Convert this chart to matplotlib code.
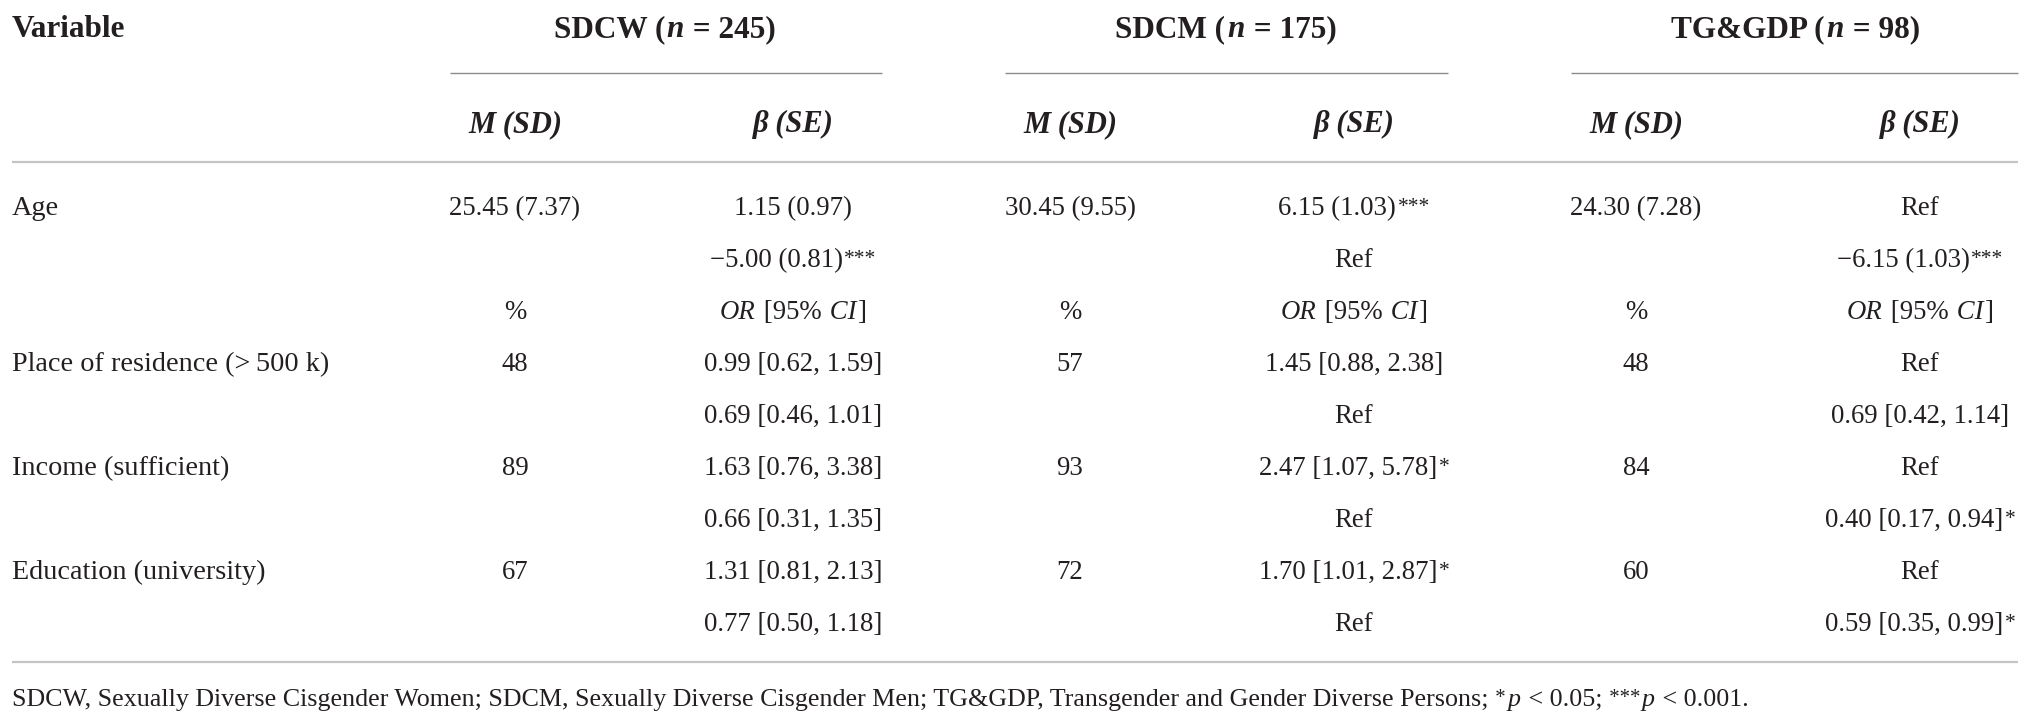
import matplotlib
matplotlib.use("Agg")
import matplotlib.pyplot as plt

# table contents
groups = ["SDCW", "SDCM", "TG&GDP"]
group_n = [245, 175, 98]
sub_headers = ["M (SD)", "\u03b2 (SE)"]

variables = ["Age", "", "", "Place of residence (>\u2009500 k)", "",
             "Income (sufficient)", "", "Education (university)", ""]

sdcw_m = ["25.45 (7.37)", "", "%", "48", "", "89", "", "67", ""]
sdcw_b = ["1.15 (0.97)", "\u22125.00 (0.81)***", "OR [95% CI]", "0.99 [0.62, 1.59]",
          "0.69 [0.46, 1.01]", "1.63 [0.76, 3.38]", "0.66 [0.31, 1.35]",
          "1.31 [0.81, 2.13]", "0.77 [0.50, 1.18]"]
sdcm_m = ["30.45 (9.55)", "", "%", "57", "", "93", "", "72", ""]
sdcm_b = ["6.15 (1.03)***", "Ref", "OR [95% CI]", "1.45 [0.88, 2.38]", "Ref",
          "2.47 [1.07, 5.78]*", "Ref", "1.70 [1.01, 2.87]*", "Ref"]
tg_m = ["24.30 (7.28)", "", "%", "48", "", "84", "", "60", ""]
tg_b = ["Ref", "\u22126.15 (1.03)***", "OR [95% CI]", "Ref", "0.69 [0.42, 1.14]",
        "Ref", "0.40 [0.17, 0.94]*", "Ref", "0.59 [0.35, 0.99]*"]

footnote = ("SDCW, Sexually Diverse Cisgender Women; SDCM, Sexually Diverse "
            "Cisgender Men; TG&GDP, Transgender and Gender Diverse Persons;")

columns = [sdcw_m, sdcw_b, sdcm_m, sdcm_b, tg_m, tg_b]

plt.rcParams["font.family"] = "Liberation Serif"

TXT = "#231f20"
W, H = 2030, 722

# layout (pixels)
col_x = [515, 793, 1070, 1354, 1636, 1920]
group_x = [665, 1226, 1796]
group_lines = [(450, 882), (1005, 1448), (1571, 2018)]
row_y0, row_dy = 215, 52
body_size = 19.3
label_size = 20.3
head_size = 22.5
foot_size = 18.7

BOLD = dict(fontweight="bold")
BOLDIT = dict(fontweight="bold", fontstyle="italic")
IT = dict(fontstyle="italic")
RM = dict()

fig = plt.figure(figsize=(W / 100, H / 100), dpi=100)
ax = fig.add_axes([0, 0, 1, 1])
ax.set_xlim(0, W)
ax.set_ylim(H, 0)
ax.axis("off")
renderer = fig.canvas.get_renderer()


def draw_runs(x, y, runs, size, ha="left"):
    # mixed-style text: place pieces one after another
    # a run may carry "scale" (relative size) and "dy" (raise in px)
    texts, widths = [], []
    for s, kw in runs:
        kw = dict(kw)
        scale = kw.pop("scale", 1.0)
        dy = kw.pop("dy", 0)
        t = ax.text(0, y - dy, s, fontsize=size * scale, color=TXT,
                    va="baseline", ha="left", **kw)
        texts.append(t)
        widths.append(t.get_window_extent(renderer).width)
    total = sum(widths) + 1.5 * (len(runs) - 1)
    pos = x - total / 2 if ha == "center" else x
    for t, w in zip(texts, widths):
        t.set_x(pos)
        pos += w + 1.5
    return pos


STARS = dict(scale=0.8, dy=3)


def draw_cell(x, y, s):
    if s.startswith("OR"):
        draw_runs(x, y, [("OR", IT), (" [95%", RM), (" CI", IT), ("]", RM)],
                  body_size, ha="center")
    elif s.endswith("*"):
        body = s.rstrip("*")
        draw_runs(x, y, [(body, RM), ("*" * (len(s) - len(body)), STARS)],
                  body_size, ha="center")
    else:
        ax.text(x, y, s, fontsize=body_size, color=TXT, va="baseline", ha="center")


# header
ax.text(12, 37, "Variable", fontsize=head_size, fontweight="bold",
        color=TXT, va="baseline", ha="left")
for g, n, gx, (x0, x1) in zip(groups, group_n, group_x, group_lines):
    draw_runs(gx, 37, [(g + " (", BOLD), ("n", BOLDIT), (" = %d)" % n, BOLD)],
              head_size, ha="center")
    ax.plot([x0, x1], [73, 73], color="#8c8c8c", lw=1.0, solid_capstyle="butt")

for i, cx in enumerate(col_x):
    ax.text(cx, 132, sub_headers[i % 2], fontsize=head_size - 0.5, color=TXT,
            va="baseline", ha="center", **BOLDIT)

ax.plot([12, 2018], [162, 162], color="#c4c4c4", lw=1.6, solid_capstyle="butt")

# body
for r, var in enumerate(variables):
    y = row_y0 + r * row_dy
    if var:
        ax.text(12, y, var, fontsize=label_size, color=TXT, va="baseline", ha="left")
    for cx, col in zip(col_x, columns):
        if col[r]:
            draw_cell(cx, y, col[r])

ax.plot([12, 2018], [662, 662], color="#c4c4c4", lw=1.6, solid_capstyle="butt")

# footnote
draw_runs(12, 706, [(footnote, RM), (" *", STARS), ("p", IT), (" < 0.05;", RM),
                    (" ***", STARS), ("p", IT), (" < 0.001.", RM)], foot_size)

fig.savefig("out.png", dpi=100, facecolor="white")
